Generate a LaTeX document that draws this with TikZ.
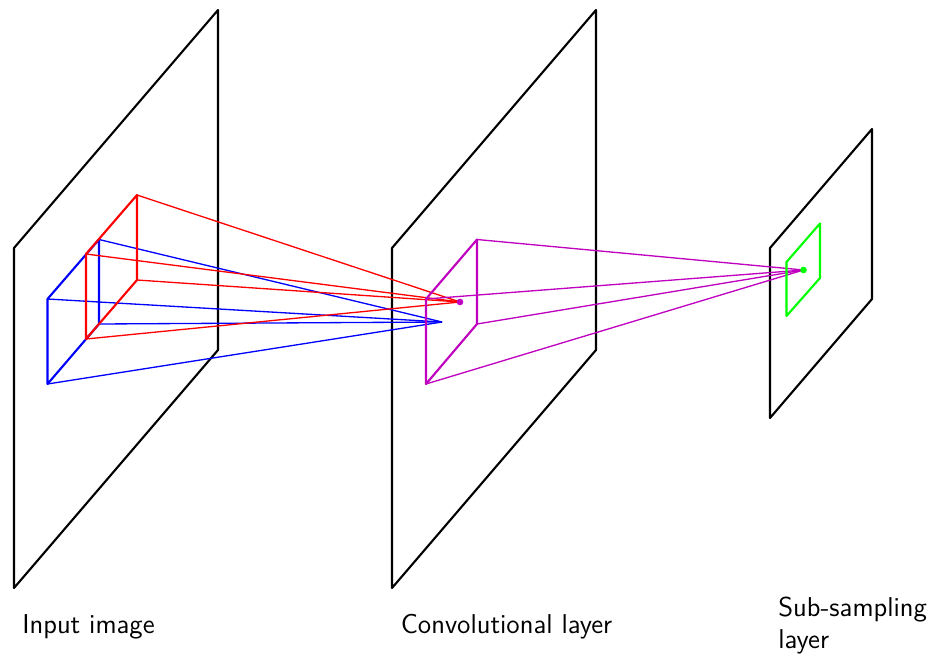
\documentclass[tikz,border=0pt]{standalone}
\usetikzlibrary{calc}
\definecolor{fieldblue}{HTML}{0000FF}
\definecolor{fieldred}{HTML}{FF0000}
\definecolor{fieldpurple}{HTML}{BF00BF}
\definecolor{fieldgreen}{HTML}{00FF00}

\begin{document}
\begin{tikzpicture}[
    x=0.02cm, y=0.02cm,
    plane/.style={black, line width=1.2pt, line join=round},
    patch/.style={line width=1.2pt, line join=round},
    ray/.style={line width=0.75pt},
    apexdot/.style={circle, inner sep=0pt, minimum size=3.8pt},
    caption/.style={anchor=base west, inner sep=0pt, scale=1.035, font=\sffamily\fontsize{15}{17.5}\selectfont, align=left},
  ]
  \useasboundingbox (0,0) rectangle (940,654);

  % ══════════════════════════════════════════════════════
  % Feature planes
  % ══════════════════════════════════════════════════════
  \draw[plane] (14,66) -- (218,304) -- (218,644) -- (14,406) -- cycle;
  \draw[plane] (392,66) -- (596,304) -- (596,644) -- (392,406) -- cycle;
  \draw[plane] (770,236) -- (872,355) -- (872,525) -- (770,406) -- cycle;

  % ══════════════════════════════════════════════════════
  % Patch corners and apex points
  % ══════════════════════════════════════════════════════
  \coordinate (B1) at (47.5,270);
  \coordinate (B2) at (99,330);
  \coordinate (B3) at (99,414.5);
  \coordinate (B4) at (47.5,355);
  \coordinate (Bapex) at (442,332);

  \coordinate (R1) at (86,315);
  \coordinate (R2) at (137,374);
  \coordinate (R3) at (137,459);
  \coordinate (R4) at (86,400);
  \coordinate (Rapex) at (460,352);

  \coordinate (P1) at (426,270);
  \coordinate (P2) at (477,330);
  \coordinate (P3) at (477,414.5);
  \coordinate (P4) at (426,355);
  \coordinate (Papex) at (803.5,384);

  % ══════════════════════════════════════════════════════
  % Blue receptive field
  % ══════════════════════════════════════════════════════
  \foreach \i in {1,2,3,4}{
    \draw[fieldblue, ray] (B\i) -- (Bapex);
  }
  \draw[fieldblue, patch] (B1) -- (B2) -- (B3) -- (B4) -- cycle;

  % ══════════════════════════════════════════════════════
  % Red receptive field
  % ══════════════════════════════════════════════════════
  \foreach \i in {1,2,3,4}{
    \draw[fieldred, ray] (R\i) -- (Rapex);
  }
  \draw[fieldred, patch] (R1) -- (R2) -- (R3) -- (R4) -- cycle;

  % ══════════════════════════════════════════════════════
  % Purple receptive field
  % ══════════════════════════════════════════════════════
  \foreach \i in {1,2,3,4}{
    \draw[fieldpurple, ray] (P\i) -- (Papex);
  }
  \draw[fieldpurple, patch] (P1) -- (P2) -- (P3) -- (P4) -- cycle;
  \node[apexdot, fill=fieldpurple] (reddot) at (Rapex) {};

  % ══════════════════════════════════════════════════════
  % Green patch
  % ══════════════════════════════════════════════════════
  \draw[fieldgreen, patch] (786.5,338) -- (820,376) -- (820,430.5) -- (786.5,392) -- cycle;
  \node[apexdot, fill=fieldgreen] (greendot) at (Papex) {};

  % ══════════════════════════════════════════════════════
  % Captions
  % ══════════════════════════════════════════════════════
  \node[caption] (inputlabel) at (22,21) {Input image};
  \node[caption] (convlabel) at (400.5,21) {Convolutional layer};
  \node[caption] (sublabel) at (778,6) {Sub-sampling\\layer};

\end{tikzpicture}
\end{document}
